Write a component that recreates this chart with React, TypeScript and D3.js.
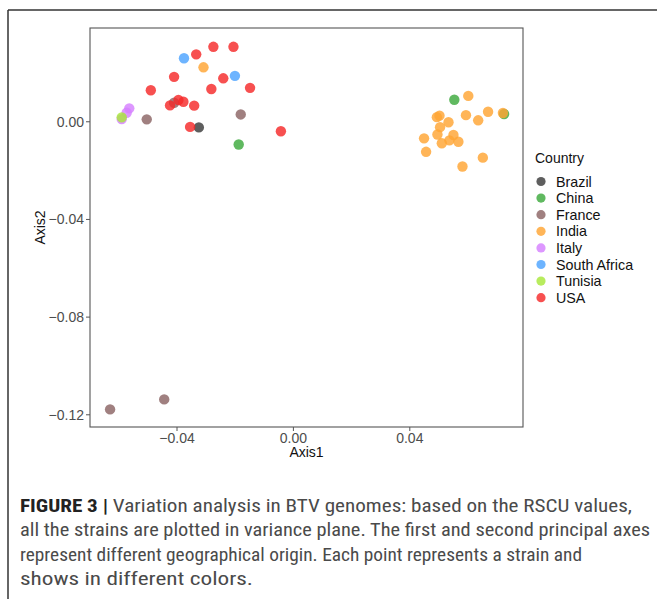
import React from "react";
import * as d3 from "d3";

const countries = ["Brazil", "China", "France", "India", "Italy", "South Africa", "Tunisia", "USA"];
const countryColors = ["#3a3a3a", "#3daa3d", "#8b6464", "#ffa533", "#d580ff", "#4da3ff", "#a8e83a", "#f52a2a"];

const brazil: [number, number][] = [[-0.0325, -0.0023]];
const china: [number, number][] = [[0.0553, 0.009], [0.0724, 0.0032], [-0.0188, -0.0093]];
const france: [number, number][] = [[-0.0504, 0.001], [-0.0181, 0.003], [-0.041, 0.0078], [-0.063, -0.1178], [-0.0444, -0.1137]];
const india: [number, number][] = [
  [-0.0309, 0.0223], [0.0601, 0.0106], [0.0493, 0.0019], [0.0502, 0.0025], [0.0593, 0.0027],
  [0.0669, 0.0041], [0.072, 0.0036], [0.0635, 0.0006], [0.0533, -0.0002], [0.0504, -0.0022],
  [0.0449, -0.0068], [0.0495, -0.0052], [0.055, -0.0054], [0.0536, -0.0076], [0.0567, -0.0082],
  [0.051, -0.0088], [0.0456, -0.0123], [0.0651, -0.0147], [0.0581, -0.0183],
];
const italy: [number, number][] = [[-0.0564, 0.0055], [-0.0573, 0.0037], [-0.059, 0.0011]];
const southAfrica: [number, number][] = [[-0.0376, 0.026], [-0.0201, 0.0188]];
const tunisia: [number, number][] = [[-0.059, 0.0018]];
const usa: [number, number][] = [
  [-0.0275, 0.0307], [-0.0206, 0.0307], [-0.0334, 0.0276], [-0.041, 0.0184], [-0.0241, 0.0178],
  [-0.049, 0.0129], [-0.0282, 0.0134], [-0.0149, 0.0139], [-0.0424, 0.0067], [-0.0395, 0.0089],
  [-0.0378, 0.0082], [-0.0341, 0.0066], [-0.0355, -0.0021], [-0.0043, -0.0039],
];
const seriesPoints = [brazil, china, france, india, italy, southAfrica, tunisia, usa];

const xTicks = [-0.04, 0, 0.04];
const yTicks = [0, -0.04, -0.08, -0.12];

const captionLines = [
  "Variation analysis in BTV genomes: based on the RSCU values,",
  "all the strains are plotted in variance plane. The first and second principal axes",
  "represent different geographical origin. Each point represents a strain and",
  "shows in different colors.",
];
const captionWidths = [612, 630, 562, 233];

const W = 657;
const H = 599;
const panel = { left: 90, top: 28, right: 523, bottom: 427 };

export default function App() {
  const x = d3.scaleLinear().domain([-0.0699, 0.0789]).range([panel.left, panel.right]);
  const y = d3.scaleLinear().domain([-0.125, 0.0384]).range([panel.bottom, panel.top]);
  const fmt = (v: number) => d3.format(".2f")(v).replace("-", "\u2212");
  const font = "'Liberation Sans', Arial, sans-serif";
  const captionFont = "'Liberation Sans Narrow', 'Roboto Condensed', 'Liberation Sans', sans-serif";

  return (
    <svg width={W} height={H} style={{ position: "absolute", left: 0, top: 0, background: "#fff" }} fontFamily={font}>
      <line x1={8} y1={10} x2={W} y2={10} stroke="#333" strokeWidth={1.5} />
      <line x1={8} y1={10} x2={8} y2={H} stroke="#333" strokeWidth={1.5} />

      <rect x={panel.left} y={panel.top} width={panel.right - panel.left} height={panel.bottom - panel.top}
        fill="#fff" stroke="#555" strokeWidth={1.1} />

      {seriesPoints.map((pts, i) =>
        pts.map((p, j) => (
          <circle key={`${i}-${j}`} cx={x(p[0])} cy={y(p[1])} r={5.2} fill={countryColors[i]} fillOpacity={0.82} />
        ))
      )}

      {xTicks.map((t) => (
        <g key={`x${t}`}>
          <line x1={x(t)} x2={x(t)} y1={panel.bottom} y2={panel.bottom + 4} stroke="#555" />
          <text x={x(t)} y={443} textAnchor="middle" fontSize={14} fill="#4d4d4d">{fmt(t)}</text>
        </g>
      ))}
      <text x={(panel.left + panel.right) / 2} y={457} textAnchor="middle" fontSize={14} fill="#111">Axis1</text>

      {yTicks.map((t) => (
        <g key={`y${t}`}>
          <line x1={panel.left - 4} x2={panel.left} y1={y(t)} y2={y(t)} stroke="#555" />
          <text x={84} y={y(t) + 5} textAnchor="end" fontSize={14} fill="#4d4d4d">{fmt(t)}</text>
        </g>
      ))}
      <text transform={`translate(45,${(panel.top + panel.bottom) / 2}) rotate(-90)`} textAnchor="middle" fontSize={14} fill="#111">Axis2</text>

      <text x={535} y={163} fontSize={14} fill="#111">Country</text>
      {countries.map((c, i) => (
        <g key={c}>
          <circle cx={541} cy={181.5 + i * 16.6} r={4.6} fill={countryColors[i]} fillOpacity={0.82} />
          <text x={556} y={181.5 + i * 16.6 + 5} fontSize={14.3} fill="#111">{c}</text>
        </g>
      ))}

      {captionLines.map((line, i) => (
        <text key={i} x={20} y={512 + i * 24.4} fontSize={18} fill="#4a4a4a" fontFamily={captionFont}
          textLength={captionWidths[i]} lengthAdjust="spacingAndGlyphs">
          {i === 0 ? (
            <>
              <tspan fontWeight="bold" fill="#222">FIGURE 3 | </tspan>
              {line}
            </>
          ) : (
            line
          )}
        </text>
      ))}
    </svg>
  );
}
